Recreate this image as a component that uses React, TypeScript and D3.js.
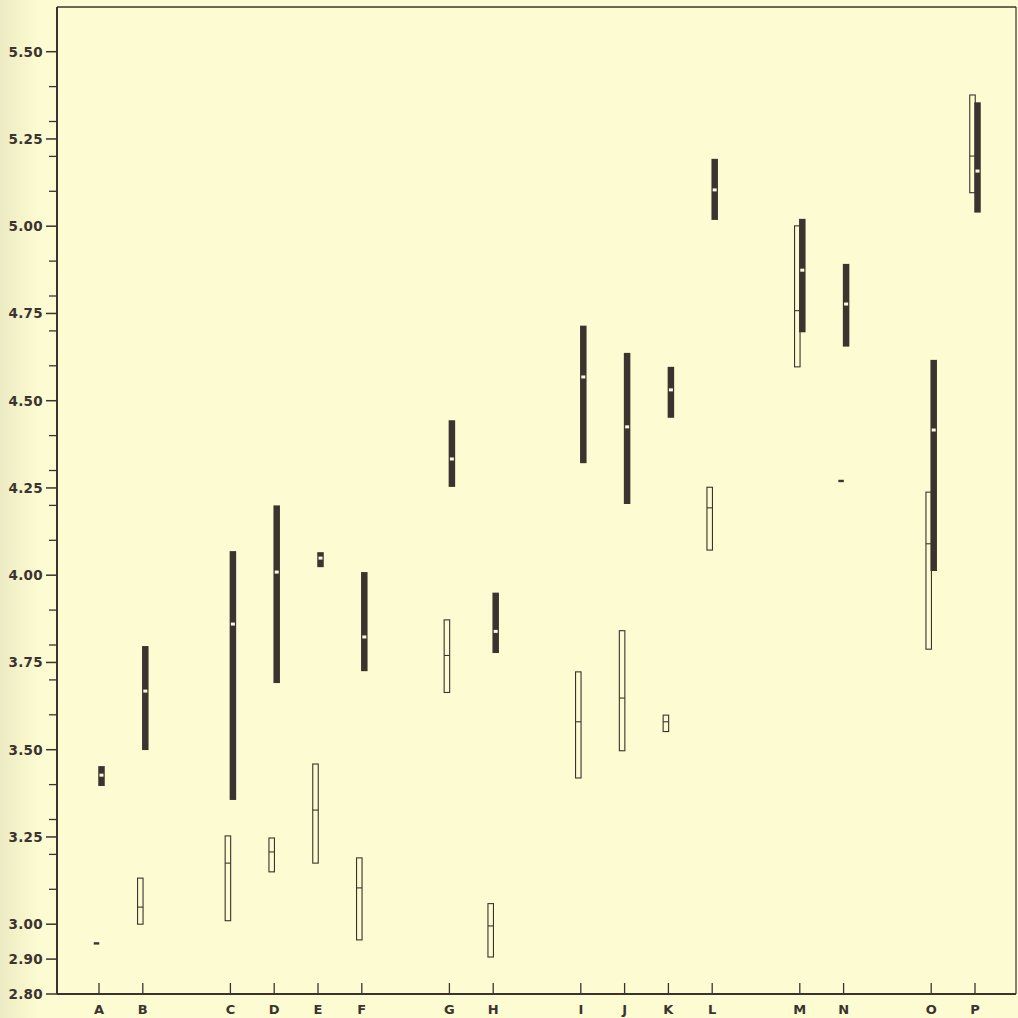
import React from "react";
import * as d3 from "d3";

const groups: string[][] = [["A", "B"], ["C", "D", "E", "F"], ["G", "H"], ["I", "J", "K", "L"], ["M", "N"], ["O", "P"]];
const categories = ["A", "B", "C", "D", "E", "F", "G", "H", "I", "J", "K", "L", "M", "N", "O", "P"];

const openLow = [2.94, 3.0, 3.01, 3.15, 3.175, 2.955, 3.664, 2.906, 3.419, 3.497, 3.552, 4.072, 4.597, 4.265, 3.788, 5.096];
const openHigh = [2.95, 3.132, 3.253, 3.247, 3.459, 3.19, 3.872, 3.059, 3.723, 3.841, 3.599, 4.252, 5.001, 4.275, 4.238, 5.376];
const openMean = [2.945, 3.049, 3.175, 3.207, 3.327, 3.104, 3.77, 2.995, 3.58, 3.648, 3.58, 4.193, 4.758, 4.27, 4.09, 5.201];

const solidLow = [3.396, 3.499, 3.356, 3.691, 4.023, 3.725, 4.253, 3.777, 4.321, 4.204, 4.451, 5.018, 4.696, 4.655, 4.012, 5.039];
const solidHigh = [3.453, 3.797, 4.069, 4.2, 4.066, 4.009, 4.444, 3.95, 4.715, 4.637, 4.597, 5.193, 5.021, 4.892, 4.617, 5.355];
const solidMean = [3.427, 3.668, 3.86, 4.009, 4.049, 3.823, 4.333, 3.839, 4.568, 4.425, 4.531, 5.104, 4.874, 4.777, 4.416, 5.158];

const majorTicks = [2.8, 2.9, 3.0, 3.25, 3.5, 3.75, 4.0, 4.25, 4.5, 4.75, 5.0, 5.25, 5.5];
const minorTicks = [3.1, 3.2, 3.3, 3.4, 3.6, 3.7, 3.8, 3.9, 4.1, 4.2, 4.3, 4.4, 4.6, 4.7, 4.8, 4.9, 5.1, 5.2, 5.3, 5.4];

const W = 1018, H = 1018;
const INK = "#3b332f";
const BG = "#fdfbd1";

export default function App() {
  // slot index per category: groups separated by one empty slot
  const slotOf: Record<string, number> = {};
  let s = 0;
  groups.forEach((g, gi) => {
    if (gi > 0) s += 1;
    g.forEach((c) => { slotOf[c] = s; s += 1; });
  });
  const maxSlot = s - 1;

  const left = 57, right = 1016, top = 7, bottom = 994;
  const y = d3.scaleLinear().domain([2.8, 5.5]).range([bottom, bottom - 2.7 * 349]);
  const x = d3.scaleLinear().domain([0, maxSlot]).range([99, 975]);

  const bw = 5.5; // open bar width
  const sw = 6.5; // solid bar width

  return (
    <svg width={W} height={H} style={{ position: "absolute", left: 0, top: 0, display: "block" }}>
      <defs>
        <linearGradient id="edge" x1="0" x2="1" y1="0" y2="0">
          <stop offset="0" stopColor="#ecebc3" />
          <stop offset="1" stopColor={BG} />
        </linearGradient>
      </defs>
      <rect x={0} y={0} width={W} height={H} fill={BG} />
      <rect x={0} y={0} width={40} height={H} fill="url(#edge)" />
      {/* frame */}
      <line x1={left} y1={top} x2={right} y2={top} stroke={INK} strokeWidth={1.5} />
      <line x1={right} y1={top} x2={right} y2={bottom} stroke={INK} strokeWidth={1.2} />
      <line x1={left} y1={top} x2={left} y2={bottom} stroke={INK} strokeWidth={2} />
      <line x1={left} y1={bottom} x2={right} y2={bottom} stroke={INK} strokeWidth={2} />

      {/* y ticks */}
      {majorTicks.map((t) => (
        <g key={"M" + t}>
          <line x1={left - 11} x2={left} y1={y(t)} y2={y(t)} stroke={INK} strokeWidth={1.5} />
          <text x={left - 14} y={y(t)} dy="0.36em" textAnchor="end" fontFamily="DejaVu Sans" fontWeight="bold" fontSize={13.5} fill={INK} letterSpacing={0.3}>
            {t.toFixed(2)}
          </text>
        </g>
      ))}
      {minorTicks.map((t) => (
        <line key={"m" + t} x1={left - 8} x2={left} y1={y(t)} y2={y(t)} stroke={INK} strokeWidth={1.3} />
      ))}

      {/* x ticks and labels */}
      {categories.map((c) => (
        <g key={"x" + c}>
          <line x1={x(slotOf[c])} x2={x(slotOf[c])} y1={bottom - 11} y2={bottom} stroke={INK} strokeWidth={1.3} />
          <text x={x(slotOf[c])} y={1014} textAnchor="middle" fontFamily="DejaVu Sans" fontWeight="bold" fontSize={13} fill={INK}>
            {c}
          </text>
        </g>
      ))}

      {/* bars */}
      {categories.map((c, i) => {
        const cx = x(slotOf[c]);
        const ox = cx - 2.5;
        const bx = cx + 2.5;
        const oTop = y(openHigh[i]);
        const oBot = y(openLow[i]);
        const sTop = y(solidHigh[i]);
        const sBot = y(solidLow[i]);
        const isDash = oBot - oTop < 5;
        return (
          <g key={"b" + c}>
            {isDash ? (
              <rect x={ox - bw / 2} y={y(openMean[i]) - 1.2} width={bw} height={2.4} fill={INK} />
            ) : (
              <g>
                <rect x={ox - bw / 2} y={oTop} width={bw} height={oBot - oTop} fill={BG} stroke={INK} strokeWidth={1.1} />
                <line x1={ox - bw / 2} x2={ox + bw / 2} y1={y(openMean[i])} y2={y(openMean[i])} stroke={INK} strokeWidth={1.1} />
              </g>
            )}
            <rect x={bx - sw / 2} y={sTop} width={sw} height={sBot - sTop} fill={INK} />
            <rect x={bx - 2} y={y(solidMean[i]) - 1.5} width={4} height={3} fill="#fdf6e0" />
          </g>
        );
      })}
    </svg>
  );
}
